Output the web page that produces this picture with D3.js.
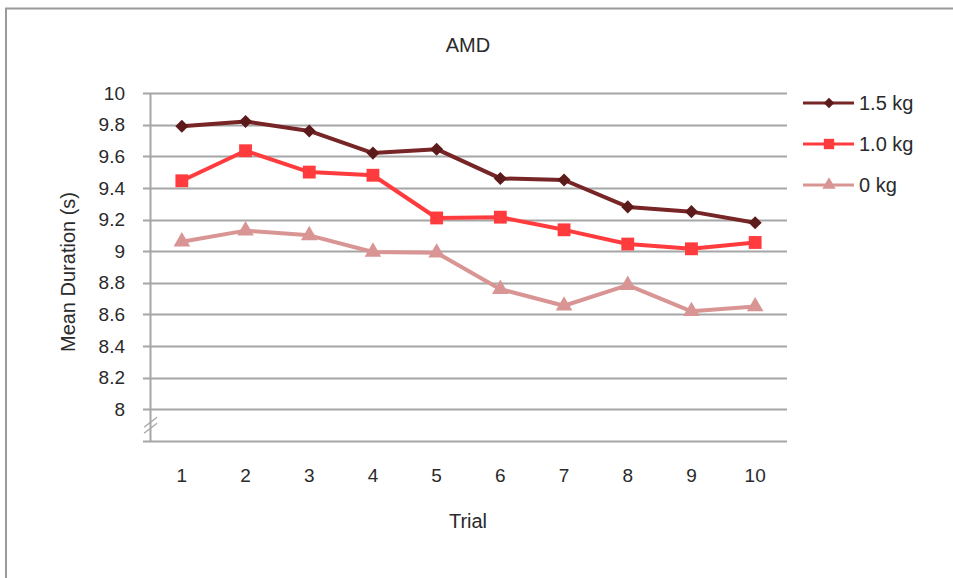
<!DOCTYPE html>
<html>
<head>
<meta charset="utf-8">
<script src="https://cdn.jsdelivr.net/npm/d3@7"></script>
<style>
  body { margin: 0; background: #fff; }
  svg { font-family: "Liberation Sans", Arial, sans-serif; }
</style>
</head>
<body>
<div id="chart"></div>
<script>
// data
var trials = ["1", "2", "3", "4", "5", "6", "7", "8", "9", "10"];
var kg15 = [9.79, 9.82, 9.76, 9.62, 9.645, 9.46, 9.45, 9.28, 9.25, 9.18];
var kg10 = [9.445, 9.635, 9.50, 9.48, 9.21, 9.215, 9.135, 9.045, 9.015, 9.055];
var kg0 = [9.06, 9.13, 9.10, 8.995, 8.99, 8.76, 8.655, 8.785, 8.62, 8.65];
var yTicks = [8, 8.2, 8.4, 8.6, 8.8, 9, 9.2, 9.4, 9.6, 9.8, 10];

var series = [
    { name: "1.5 kg", values: kg15, color: "#772526", mark: "#5c1a1b", symbol: d3.symbolSquare, size: 85, rot: 45 },
    { name: "1.0 kg", values: kg10, color: "#ff3b3e", mark: "#ff3b3e", symbol: d3.symbolSquare, size: 165, rot: 0 },
    { name: "0 kg", values: kg0, color: "#d99594", mark: "#d99594", symbol: d3.symbolTriangle, size: 120, rot: 0 }
];

var W = 953, H = 578;
var margin = { top: 93, right: 166, bottom: 137, left: 150 },
    width = W - margin.left - margin.right,
    height = H - margin.top - margin.bottom;

var textColor = "#2a2a2a";
var tickSize = "19px";
var labelSize = "20px";

var svg = d3.select("#chart").append("svg")
    .attr("width", W)
    .attr("height", H);

// outer frame
svg.append("path")
    .attr("d", "M6,578 V8.5 H953")
    .attr("fill", "none")
    .attr("stroke", "#9a9a9a")
    .attr("stroke-width", 2);

var g = svg.append("g")
    .attr("transform", "translate(" + margin.left + "," + margin.top + ")");

var x = d3.scaleBand()
    .domain(trials)
    .range([0, width]);

// 7.8 sits under the axis break and is not labelled
var y = d3.scaleLinear()
    .domain([7.8, 10])
    .range([height, 0]);

// gridlines
g.append("g")
    .selectAll("line")
    .data(yTicks)
    .enter().append("line")
    .attr("x1", -7)
    .attr("x2", width)
    .attr("y1", d => Math.round(y(d)) + 0.5)
    .attr("y2", d => Math.round(y(d)) + 0.5)
    .attr("stroke", "#a6a6a6")
    .attr("stroke-width", 2);

// y axis labels
var yAxis = g.append("g")
    .attr("transform", "translate(-22,0)")
    .call(d3.axisLeft(y).tickValues(yTicks).tickSize(0).tickFormat(d3.format("")));
yAxis.select(".domain").remove();
yAxis.selectAll("text")
    .attr("fill", textColor)
    .style("font-size", tickSize);

// vertical axis line
g.append("line")
    .attr("x1", 0.5).attr("x2", 0.5)
    .attr("y1", 0).attr("y2", height)
    .attr("stroke", "#a6a6a6")
    .attr("stroke-width", 2);

// bottom axis line
g.append("line")
    .attr("x1", -7).attr("x2", width)
    .attr("y1", height + 0.5).attr("y2", height + 0.5)
    .attr("stroke", "#a6a6a6")
    .attr("stroke-width", 2);

// axis break marks
var mid = (y(8) + y(7.8)) / 2;
[-3, 3].forEach(function (o) {
    g.append("line")
        .attr("x1", -6).attr("y1", mid + o + 5)
        .attr("x2", 7).attr("y2", mid + o - 5)
        .attr("stroke", "#a6a6a6")
        .attr("stroke-width", 1.3);
});

// x axis labels
var xAxis = g.append("g")
    .attr("transform", "translate(0," + height + ")")
    .call(d3.axisBottom(x).tickSize(0).tickPadding(28));
xAxis.select(".domain").remove();
xAxis.selectAll("text")
    .attr("fill", textColor)
    .style("font-size", tickSize);

// titles
svg.append("text")
    .attr("x", 468).attr("y", 52)
    .attr("text-anchor", "middle")
    .style("font-size", labelSize)
    .attr("fill", textColor)
    .text("AMD");

svg.append("text")
    .attr("x", 468).attr("y", 528)
    .attr("text-anchor", "middle")
    .style("font-size", labelSize)
    .attr("fill", textColor)
    .text("Trial");

svg.append("text")
    .attr("transform", "translate(75,272) rotate(-90)")
    .attr("text-anchor", "middle")
    .style("font-size", labelSize)
    .attr("fill", textColor)
    .text("Mean Duration (s)");

// lines and markers
var line = d3.line()
    .x((d, i) => x(trials[i]) + x.bandwidth() / 2)
    .y(d => y(d));

series.forEach(function (s) {
    g.append("path")
        .datum(s.values)
        .attr("fill", "none")
        .attr("stroke", s.color)
        .attr("stroke-width", 4)
        .attr("stroke-linejoin", "round")
        .attr("d", line);

    g.append("g")
        .selectAll("path")
        .data(s.values)
        .enter().append("path")
        .attr("transform", (d, i) => "translate(" + (x(trials[i]) + x.bandwidth() / 2) + "," + y(d) + ") rotate(" + s.rot + ")")
        .attr("d", d3.symbol().type(s.symbol).size(s.size))
        .attr("fill", s.mark);
});

// legend
var legend = svg.append("g")
    .attr("transform", "translate(803,103)");

series.forEach(function (s, i) {
    var row = legend.append("g")
        .attr("transform", "translate(0," + (i * 41) + ")");
    row.append("line")
        .attr("x1", 0).attr("x2", 51)
        .attr("stroke", s.color)
        .attr("stroke-width", 3);
    row.append("path")
        .attr("transform", "translate(26,0) rotate(" + s.rot + ")")
        .attr("d", d3.symbol().type(s.symbol).size(s.size * 0.65))
        .attr("fill", s.mark);
    row.append("text")
        .attr("x", 56)
        .attr("dy", "0.35em")
        .style("font-size", labelSize)
        .attr("fill", textColor)
        .text(s.name);
});
</script>
</body>
</html>
